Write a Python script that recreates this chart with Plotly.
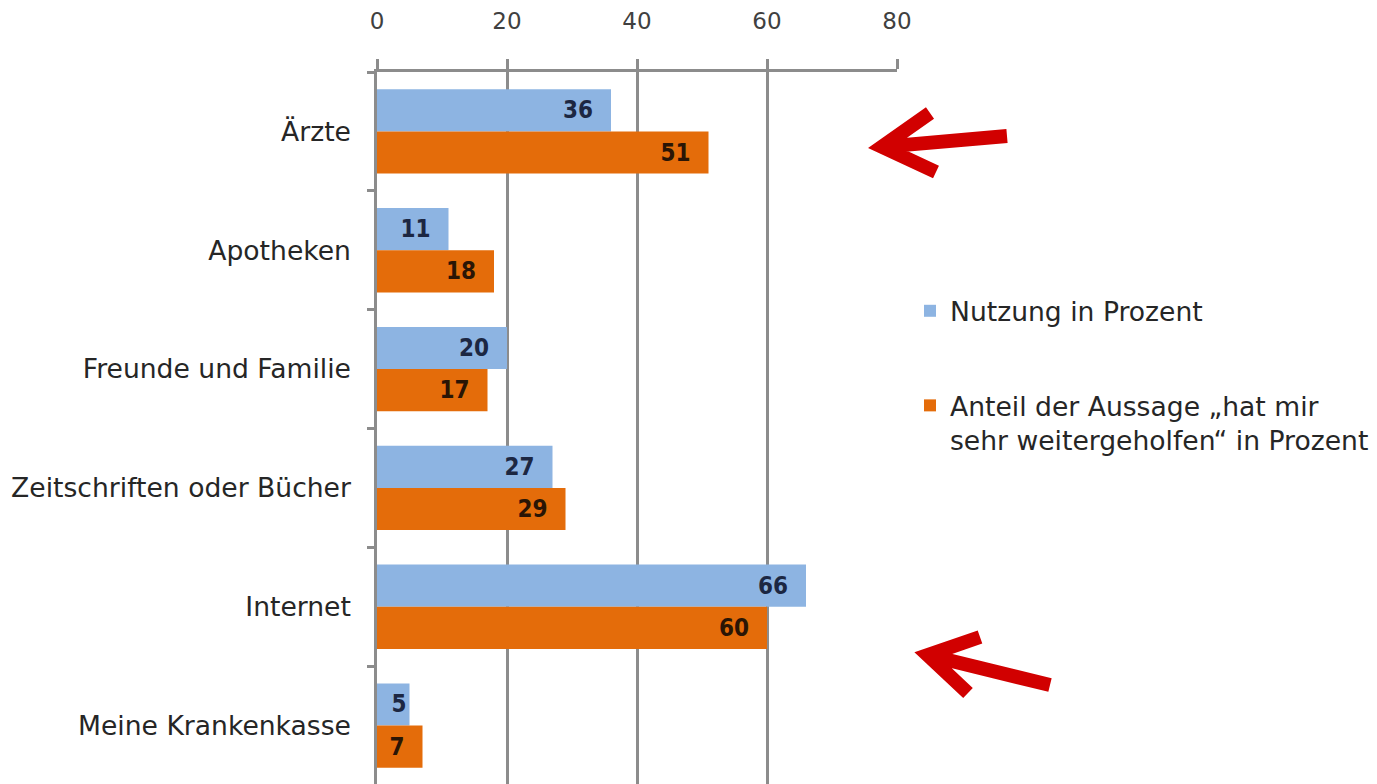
import plotly.graph_objects as go

categories = ["Ärzte", "Apotheken", "Freunde und Familie", "Zeitschriften oder Bücher",
              "Internet", "Meine Krankenkasse"]
nutzung = [36, 11, 20, 27, 66, 5]
anteil = [51, 18, 17, 29, 60, 7]
series_names = ["Nutzung in Prozent",
                "Anteil der Aussage „hat mir<br>sehr weitergeholfen“ in Prozent"]
x_ticks = [0, 20, 40, 60, 80]

# the page body adds an 8px offset; compensate so the picture lands at 1377x784 coords
OFF = 8
W, H = 1377, 785
L, R, T, B = 377, 480, 72, 0
pw, ph = W - L - R, H - T - B

def px(x):
    return (x - L) / pw

def py(y):
    return (H - B - y) / ph

BLUE = "#8DB4E2"
ORANGE = "#E46C0A"
GRID = "#8C8C8C"
FONT = "DejaVu Sans"
LBLFONT = "Liberation Sans Narrow, DejaVu Sans Condensed, DejaVu Sans"

def labels(vals):
    return [f"{v}\u00a0\u00a0" if v >= 7 else f"{v}" for v in vals]

fig = go.Figure()
fig.add_trace(go.Bar(
    y=categories, x=nutzung, orientation="h", name=series_names[0],
    marker=dict(color=BLUE, line=dict(width=0)),
    text=labels(nutzung), textposition="inside",
    insidetextanchor="end", constraintext="none", textangle=0,
    textfont=dict(family=LBLFONT, size=24, color="#1C2742", weight="bold"),
    legendgroup="a",
))
fig.add_trace(go.Bar(
    y=categories, x=anteil, orientation="h", name=series_names[1],
    marker=dict(color=ORANGE, line=dict(width=0)),
    text=labels(anteil), textposition="inside",
    insidetextanchor="end", constraintext="none", textangle=0,
    textfont=dict(family=LBLFONT, size=24, color="#2A1505", weight="bold"),
    legendgroup="b",
))

def arrow(tip, tail, up, down, inset=13):
    dx, dy = tail[0] - tip[0], tail[1] - tip[1]
    n = (dx * dx + dy * dy) ** 0.5
    vx, vy = tip[0] + dx / n * inset, tip[1] + dy / n * inset
    return dict(
        type="path", xref="paper", yref="paper",
        path=(f"M{px(up[0])},{py(up[1])} L{px(vx)},{py(vy)} L{px(down[0])},{py(down[1])} "
              f"M{px(vx + dx / n * 6)},{py(vy + dy / n * 6)} L{px(tail[0])},{py(tail[1])}"),
        line=dict(color="#D10000", width=14),
    )

fig.update_layout(
    width=W - OFF, height=H - OFF,
    margin=dict(l=L - OFF, r=R, t=T - OFF, b=B, pad=0),
    paper_bgcolor="white", plot_bgcolor="white",
    barmode="group", bargap=0.29, bargroupgap=0,
    font=dict(family=FONT, size=26.6, color="#262626"),
    showlegend=True,
    legend=dict(
        x=px(910), y=py(287), xanchor="left", yanchor="top",
        traceorder="grouped", tracegroupgap=57, valign="top",
        font=dict(family=FONT, size=26.6, color="#262626"),
        itemwidth=30, bgcolor="rgba(0,0,0,0)",
    ),
    xaxis=dict(
        side="top", range=[0, 80], tickvals=x_ticks, ticktext=[str(t) for t in x_ticks],
        showgrid=True, gridcolor=GRID, gridwidth=2.5,
        showline=True, linecolor=GRID, linewidth=2.5,
        ticks="outside", ticklen=10, tickwidth=2.5, tickcolor=GRID,
        zeroline=False, ticklabelstandoff=21,
        tickfont=dict(family=FONT, size=23, color="#404040"),
        fixedrange=True,
    ),
    yaxis=dict(
        autorange="reversed", type="category",
        showline=True, linecolor=GRID, linewidth=2.5,
        ticks="outside", ticklen=7, tickwidth=2.5, tickcolor=GRID,
        tickson="boundaries", showgrid=False, ticklabelstandoff=18,
        tickfont=dict(family=FONT, size=26.6, color="#262626"),
        fixedrange=True,
    ),
    shapes=[
        arrow((869, 148), (1007, 136), (930, 113), (936, 172)),
        arrow((915, 652), (1050, 685), (980, 637), (968, 693)),
    ],
)

fig.write_html("out.html")
